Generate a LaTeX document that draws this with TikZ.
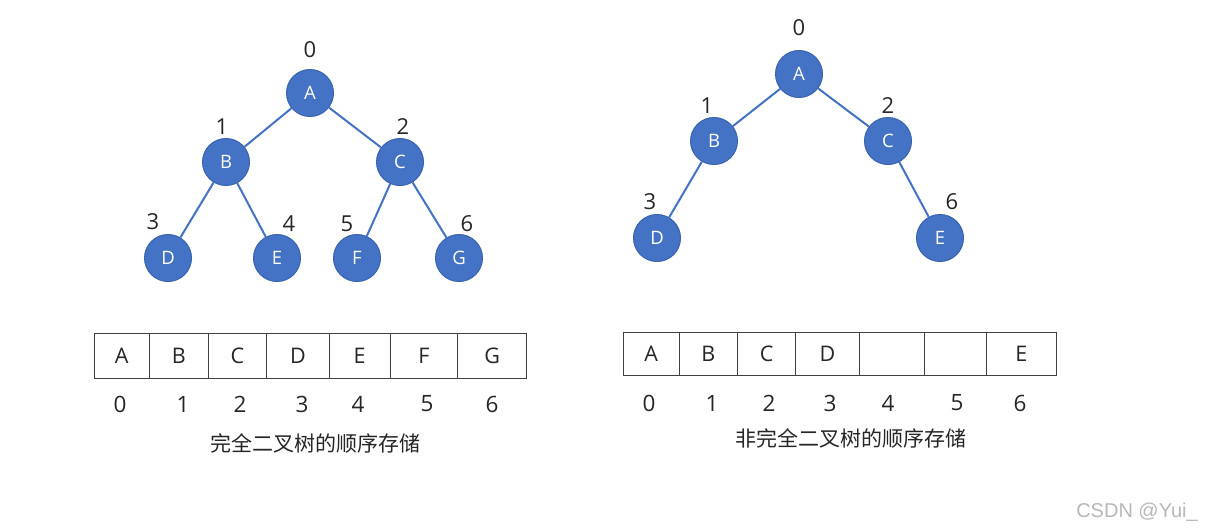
\documentclass[tikz,border=0pt]{standalone}
\usepackage{fontspec}
\setmainfont{Open Sans}
\newfontfamily\cjk{Noto Sans CJK SC}
\newfontfamily\wm{Liberation Sans}
\definecolor{nodeblue}{HTML}{4472C4}
\definecolor{nodeedge}{HTML}{3A63AE}
\definecolor{cellline}{HTML}{404040}
\begin{document}
\begin{tikzpicture}[x=1pt,y=-1pt,
  tnode/.style={circle, fill=nodeblue, draw=nodeedge, line width=1pt, minimum size=47pt, inner sep=0pt, text=white, font=\fontsize{18.5}{18.5}\selectfont},
  edge/.style={draw=nodeblue, line width=2pt},
  idx/.style={inner sep=0pt, font=\fontsize{22}{22}\selectfont, text=black!85},
  cell/.style={draw=cellline, line width=0.8pt, inner sep=0pt, font=\fontsize{21.5}{21.5}\selectfont, text=black!85},
  aidx/.style={inner sep=0pt, font=\fontsize{22.5}{22.5}\selectfont, text=black!85},
  captext/.style={inner sep=0pt, font=\cjk\fontsize{21}{21}\selectfont, text=black!85}]
\useasboundingbox (0,0) rectangle (1210,531);
\fill[white] (0,0) rectangle (1210,531);

% ---------- left tree ----------
\node[tnode] (A) at (310,93) {A};
\node[tnode] (B) at (226,162) {B};
\node[tnode] (C) at (400,162) {C};
\node[tnode] (D) at (168,258) {D};
\node[tnode] (E) at (277,258) {E};
\node[tnode] (F) at (357,258) {F};
\node[tnode] (G) at (459,258) {G};
\draw[edge] (A) -- (B);
\draw[edge] (A) -- (C);
\draw[edge] (B) -- (D);
\draw[edge] (B) -- (E);
\draw[edge] (C) -- (F);
\draw[edge] (C) -- (G);
\node[idx] (lA) at (310,50) {0};
\node[idx] (lB) at (222,127) {1};
\node[idx] (lC) at (403,127) {2};
\node[idx] (lD) at (153,222) {3};
\node[idx] (lE) at (289,224) {4};
\node[idx] (lF) at (347,224) {5};
\node[idx] (lG) at (467,224) {6};

% ---------- right tree ----------
\node[tnode] (A2) at (799,74) {A};
\node[tnode] (B2) at (714,141) {B};
\node[tnode] (C2) at (888,141) {C};
\node[tnode] (D2) at (657,238) {D};
\node[tnode] (E2) at (940,238) {E};
\draw[edge] (A2) -- (B2);
\draw[edge] (A2) -- (C2);
\draw[edge] (B2) -- (D2);
\draw[edge] (C2) -- (E2);
\node[idx] (lA2) at (799,28) {0};
\node[idx] (lB2) at (707,106) {1};
\node[idx] (lC2) at (888,106) {2};
\node[idx] (lD2) at (650,202) {3};
\node[idx] (lE2) at (952,202) {6};

% ---------- left array ----------
\foreach \l/\r/\t/\n in {94.3/149.3/A/0, 149.3/208.3/B/1, 208.3/266.7/C/2, 266.7/329.3/D/3, 329.3/390/E/4, 390/457.7/F/5, 457.7/526.7/G/6}{
  \node[cell, minimum height=45pt, minimum width={\r pt-\l pt}] (ca\n) at ({(\l+\r)/2},355.5) {\t};
}
\foreach \x/\n in {120/0, 183/1, 240/2, 302/3, 358/4, 427/5, 492/6}{
  \node[aidx] (ia\n) at (\x,404) {\n};
}
\node[captext] (capL) at (315,443) {完全二叉树的顺序存储};

% ---------- right array ----------
\foreach \l/\r/\t/\n in {623.3/679/A/0, 679/737.7/B/1, 737.7/795.7/C/2, 795.7/859.3/D/3, 859.3/924//4, 924/986.7//5, 986.7/1056/E/6}{
  \node[cell, minimum height=43.4pt, minimum width={\r pt-\l pt}] (cb\n) at ({(\l+\r)/2},354) {\t};
}
\foreach \x/\n in {649/0, 712/1, 769/2, 830/3, 888/4, 957/5, 1020/6}{
  \node[aidx] (ib\n) at (\x,403) {\n};
}
\node[captext] (capR) at (851,438) {非完全二叉树的顺序存储};

% ---------- watermark ----------
\node[inner sep=0pt, font=\wm\fontsize{20}{20}\selectfont, text=black!28] (wm) at (1137,512) {CSDN @Yui\_};
\end{tikzpicture}
\end{document}
